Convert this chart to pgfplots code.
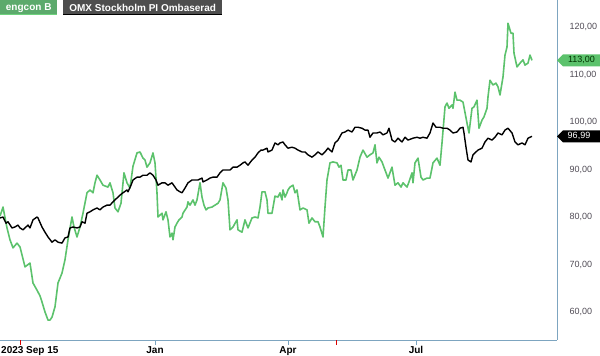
\documentclass[border=0pt]{standalone}
\usepackage{pgfplots}
\pgfplotsset{compat=1.18}
\usepackage{fontspec}
\setmainfont{Liberation Sans}
\definecolor{eng}{RGB}{92,194,108}
\definecolor{engbox}{RGB}{92,170,108}
\definecolor{engline}{RGB}{110,210,125}
\definecolor{omxbox}{RGB}{78,78,78}
\definecolor{axl}{RGB}{125,165,192}
\definecolor{tickgray}{RGB}{80,75,85}
\begin{document}
\begin{tikzpicture}
\begin{axis}[
  scale only axis, width=557pt, height=340pt,
  xmin=0, xmax=557, ymin=54.1, ymax=125.7,
  axis x line*=bottom, axis y line*=right,
  axis line style={draw=axl, line width=0.8pt, -},
  tick align=outside, major tick length=5pt,
  xtick={155,288,416}, xticklabels={Jan,Apr,Jul},
  xtick style={draw=axl, line width=0.8pt},
  xticklabel style={font=\fontsize{10}{12}\selectfont\bfseries, text=black, inner sep=1pt},
  extra x ticks={20,336}, extra x tick labels={2023 Sep 15,{}},
  extra x tick style={xtick style={draw=red!85!black, line width=0.8pt}, xticklabel style={anchor=north west, xshift=-20pt}},
  ytick={60,70,80,90,100,110,120},
  ytick style={draw=none},
  yticklabel style={font=\fontsize{9}{11}\selectfont, text=tickgray, anchor=west, xshift=4pt,
    /pgf/number format/fixed, /pgf/number format/fixed zerofill, /pgf/number format/precision=2,
    /pgf/number format/use comma, /pgf/number format/assume math mode=true},
]
\addplot[eng, line width=1.6pt, line join=round] coordinates {
(0,80.2)(3,82.1)(7,77.7)(10,75.2)(13,73.5)(17,74.5)(20,73.7)(25,69.5)(30,70.3)(33,66.1)
(37,64.6)(40,63.4)(42,62.1)(45,60.0)(48,58.3)(50,58.3)(52,58.9)(55,61.1)(58,66.1)(62,68.2)
(65,71.0)(68,75.2)(72,80.0)(74,77.9)(77,75.8)(80,77.9)(83,80.8)(87,85.1)(90,85.7)(93,85.1)
(95,87.2)(97,88.8)(100,87.8)(103,86.7)(108,86.3)(110,87.2)(113,85.1)(115,81.9)(118,81.1)(121,82.9)
(124,89.3)(127,87.2)(130,86.1)(133,90.7)(137,93.5)(140,93.7)(143,92.4)(145,92.0)(147,90.5)(150,91.4)
(153,93.5)(155,91.4)(157,85.1)(158,80.0)(162,80.8)(163,79.4)(166,81.1)(168,79.4)(170,75.8)(172,76.6)
(173,75.2)(175,77.9)(177,78.7)(179,79.4)(182,80.0)(183,80.8)(187,82.1)(188,83.2)(190,82.5)(193,83.6)
(195,82.5)(197,83.6)(200,87.2)(202,84.2)(204,82.5)(206,81.5)(208,81.9)(212,82.1)(215,82.5)(218,82.9)
(220,83.6)(223,87.2)(226,86.1)(228,83.6)(230,77.3)(233,77.9)(237,79.4)(238,77.3)(242,76.8)(245,79.4)
(248,77.7)(252,79.8)(255,80.0)(258,79.8)(260,82.1)(262,85.3)(265,85.3)(267,83.6)(268,80.8)(272,80.8)
(275,84.4)(278,84.2)(280,85.1)(282,83.6)(283,85.7)(285,84.2)(287,85.1)(288,85.7)(290,86.3)(293,86.7)
(295,85.1)(297,85.7)(300,81.5)(303,81.9)(307,81.5)(309,78.7)(312,79.8)(315,79.0)(318,79.0)(320,77.9)
(323,75.8)(325,82.1)(327,87.8)(330,91.4)(333,91.6)(337,91.4)(339,90.5)(341,90.9)(343,87.8)(346,87.8)
(348,89.9)(351,89.9)(353,87.8)(357,89.9)(360,92.6)(363,94.1)(367,92.6)(370,93.1)(373,93.5)(375,95.2)
(377,91.4)(379,92.6)(382,91.6)(385,89.9)(388,88.2)(392,90.5)(395,86.7)(398,87.2)(401,86.3)(403,87.2)
(407,86.3)(409,87.4)(412,89.3)(413,87.2)(415,91.4)(418,92.4)(421,88.4)(423,87.8)(427,88.2)(430,88.2)
(433,91.4)(437,92.4)(440,90.9)(442,95.6)(445,103.2)(447,104.0)(449,102.9)(452,103.6)(453,102.9)(455,106.3)
(457,104.6)(460,104.6)(463,104.2)(467,99.8)(469,97.7)(472,102.9)(474,103.2)(477,104.6)(479,98.7)(482,100.4)
(484,101.1)(487,102.9)(488,105.3)(490,108.8)(493,107.8)(496,108.2)(498,107.4)(500,105.7)(503,109.5)(505,114.1)
(507,115.8)(508,120.8)(511,118.7)(513,118.7)(514,114.5)(517,111.6)(520,112.4)(523,113.1)(525,112.0)(528,112.4)
(530,114.1)(532,113.0)
};
\addplot[black, line width=1.4pt, line join=round] coordinates {
(0,79.8)(3,80.0)(6,78.7)(8,79.0)(12,77.7)(15,77.9)(18,78.3)(20,77.7)(23,77.3)(25,77.7)
(28,78.3)(30,77.7)(33,79.4)(37,80.0)(38,79.8)(42,77.9)(45,76.8)(48,75.8)(52,74.7)(55,75.2)
(58,74.7)(62,74.5)(65,75.6)(68,75.8)(70,77.7)(73,77.9)(77,77.7)(80,77.9)(82,79.0)(85,78.7)
(87,80.8)(90,81.1)(93,81.5)(97,81.9)(100,81.5)(103,82.1)(107,82.5)(110,82.5)(113,83.2)(117,84.0)
(120,84.6)(123,85.1)(127,85.7)(128,85.3)(131,86.7)(133,87.8)(137,88.4)(140,88.4)(143,88.8)(147,88.8)
(150,89.3)(153,88.8)(156,87.8)(158,86.7)(162,87.2)(165,87.2)(168,86.7)(172,87.2)(175,86.3)(177,85.7)
(180,85.3)(182,85.1)(185,86.1)(188,87.2)(192,87.8)(195,87.8)(198,87.8)(202,88.2)(203,87.4)(207,87.8)
(210,88.2)(213,88.4)(217,88.4)(220,89.3)(223,89.9)(227,89.9)(230,89.9)(233,90.5)(237,90.5)(240,90.9)
(243,91.4)(245,91.6)(248,90.9)(252,92.0)(255,92.6)(258,93.5)(261,94.1)(263,94.1)(267,94.5)(268,93.7)
(272,94.1)(275,95.6)(278,95.2)(280,95.6)(283,95.8)(285,95.2)(288,94.5)(292,94.7)(295,94.5)(298,94.1)
(302,93.7)(305,93.7)(308,93.1)(312,92.6)(315,93.1)(318,93.7)(322,93.1)(325,93.7)(328,94.5)(332,93.7)
(335,95.6)(338,96.2)(342,97.7)(345,97.9)(348,98.3)(352,97.9)(355,98.9)(358,98.9)(362,98.7)(365,98.3)
(368,98.3)(370,96.8)(373,97.7)(377,97.7)(380,97.9)(383,97.3)(387,97.7)(389,98.7)(392,96.2)(395,95.8)
(398,96.6)(402,95.8)(405,96.8)(408,96.2)(413,96.6)(417,96.8)(420,96.6)(423,96.8)(427,96.6)(430,97.7)
(433,99.8)(436,98.9)(440,98.9)(443,98.7)(447,98.7)(450,98.3)(453,97.7)(457,97.9)(460,98.7)(463,98.9)
(464,97.7)(466,94.7)(468,92.0)(471,91.6)(473,93.1)(475,93.5)(478,94.1)(482,94.5)(485,95.8)(488,96.6)
(492,96.2)(495,96.8)(498,97.7)(502,97.3)(505,98.3)(508,98.7)(512,97.7)(515,95.8)(518,95.2)(522,95.6)
(525,95.2)(528,96.6)(532,96.99)
};
\coordinate (gv) at (axis cs:557,113.0);
\coordinate (bv) at (axis cs:557,96.99);
\end{axis}
% value boxes
\fill[eng] (gv) -- ++(6pt,6pt) -- ++(37pt,0) -- ++(0,-12pt) -- ++(-37pt,0) -- cycle;
\node[font=\fontsize{9}{11}\selectfont, text=black!80!green, xshift=24.5pt] at (gv) {113,00};
\fill[black] (bv) -- ++(6pt,6pt) -- ++(37pt,0) -- ++(0,-12pt) -- ++(-37pt,0) -- cycle;
\node[font=\fontsize{9}{11}\selectfont, text=white, xshift=22pt] at (bv) {96,99};
% legend boxes
\node[anchor=north west, fill=engbox, text=white, font=\fontsize{10}{12}\selectfont\bfseries,
  minimum height=15pt, minimum width=57pt, inner xsep=2pt, inner ysep=0pt] (l1) at (0,340pt) {engcon B};
\draw[engline, line width=1.6pt] ([yshift=0.8pt]l1.south west) -- ([yshift=0.8pt]l1.south east);
\node[anchor=north west, fill=omxbox, text=white, font=\fontsize{10}{12}\selectfont\bfseries,
  minimum height=15pt, minimum width=159pt, inner xsep=2pt, inner ysep=0pt] (l2) at (63pt,340pt) {OMX Stockholm PI Ombaserad};
\draw[black, line width=1.4pt] ([yshift=0.7pt]l2.south west) -- ([yshift=0.7pt]l2.south east);
\pgfresetboundingbox
\path[use as bounding box] (0,-16pt) rectangle (600pt,340pt);
\end{tikzpicture}
\end{document}
